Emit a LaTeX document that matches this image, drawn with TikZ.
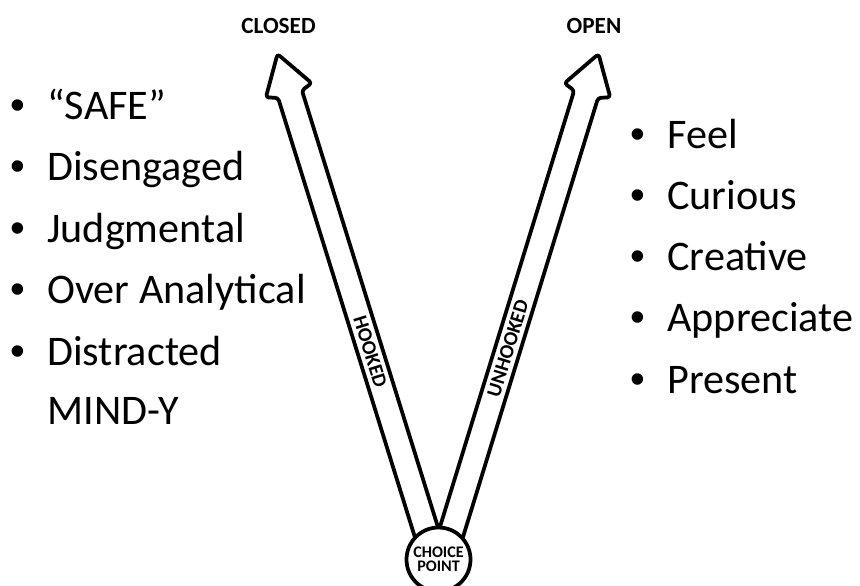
\documentclass[tikz,border=0pt]{standalone}
\usepackage{fontspec}
\setmainfont{Carlito}
\newfontfamily\bulfont{Liberation Sans}
\usepackage{tikz}
\usetikzlibrary{positioning,calc}

\newcommand{\bul}{\makebox[7.6mm][l]{\hspace{0.3mm}{\bulfont •}}}

\begin{document}
\begin{tikzpicture}[
  x=0.2mm, y=-0.2mm,
  item/.style={anchor=base west, inner sep=0pt, font=\fontsize{24}{28}\selectfont},
  tag/.style={inner sep=0pt, font=\bfseries\fontsize{13.2}{15}\selectfont},
  cp/.style={circle, draw, line width=0.75mm, fill=white, minimum size=12.8mm, inner sep=0pt,
             align=center, font=\bfseries\fontsize{9.2}{8}\selectfont},
  vshaft/.style={draw, line width=0.75mm, fill=white, rounded corners=0.6mm, line join=round},
  shafttxt/.style={inner sep=0pt, font=\bfseries\fontsize{11.5}{13}\selectfont}
]
\useasboundingbox (0,0) rectangle (860,585);

% tips of the two paths
\coordinate (tipL) at (277.5,54);
\coordinate (tipR) at (598.5,54);

% the two arrows
\begin{scope}[shift={(tipL)}, rotate=-72.7]
\draw[vshaft] (0,0) -- (38,24) -- (42,12.5) -- (560,12.5) -- (560,-12.5) -- (42,-12.5) -- (38,-24) -- cycle;
\node[shafttxt, rotate=-72.7] (hooked) at (312,0) {HOOKED};
\end{scope}
\begin{scope}[shift={(tipR)}, rotate=-107.1]
\draw[vshaft] (0,0) -- (38,24) -- (42,12.5) -- (560,12.5) -- (560,-12.5) -- (42,-12.5) -- (38,-24) -- cycle;
\node[shafttxt, rotate=72.9] (unhooked) at (308,0) {UNHOOKED};
\end{scope}

% choice point
\node[cp] (choice) at (438.5,559.5) {CHOICE\\POINT};

% end labels
\node[tag] (closed) at (278.5,26) {CLOSED};
\node[tag] (open) at (594,26) {OPEN};

% closed side
\node[item] (safe)   at (9,119)   {\bul“SAFE”};
\node[item] (diseng) at (9,180.5) {\bul Disengaged};
\node[item] (judg)   at (9,242)   {\bul Judgmental};
\node[item] (overan) at (9,303.5) {\bul Over Analytical};
\node[item] (distr)  at (9,365)   {\bul Distracted};
\node[item] (mindy)  at (47,424)  {MIND-Y};

% open side
\node[item] (feel)     at (629,148)   {\bul Feel};
\node[item] (curious)  at (629,209)   {\bul Curious};
\node[item] (creative) at (629,270)   {\bul Creative};
\node[item] (apprec)   at (629,331.5) {\bul Appreciate};
\node[item] (present)  at (629,393)   {\bul Present};
\end{tikzpicture}
\end{document}
